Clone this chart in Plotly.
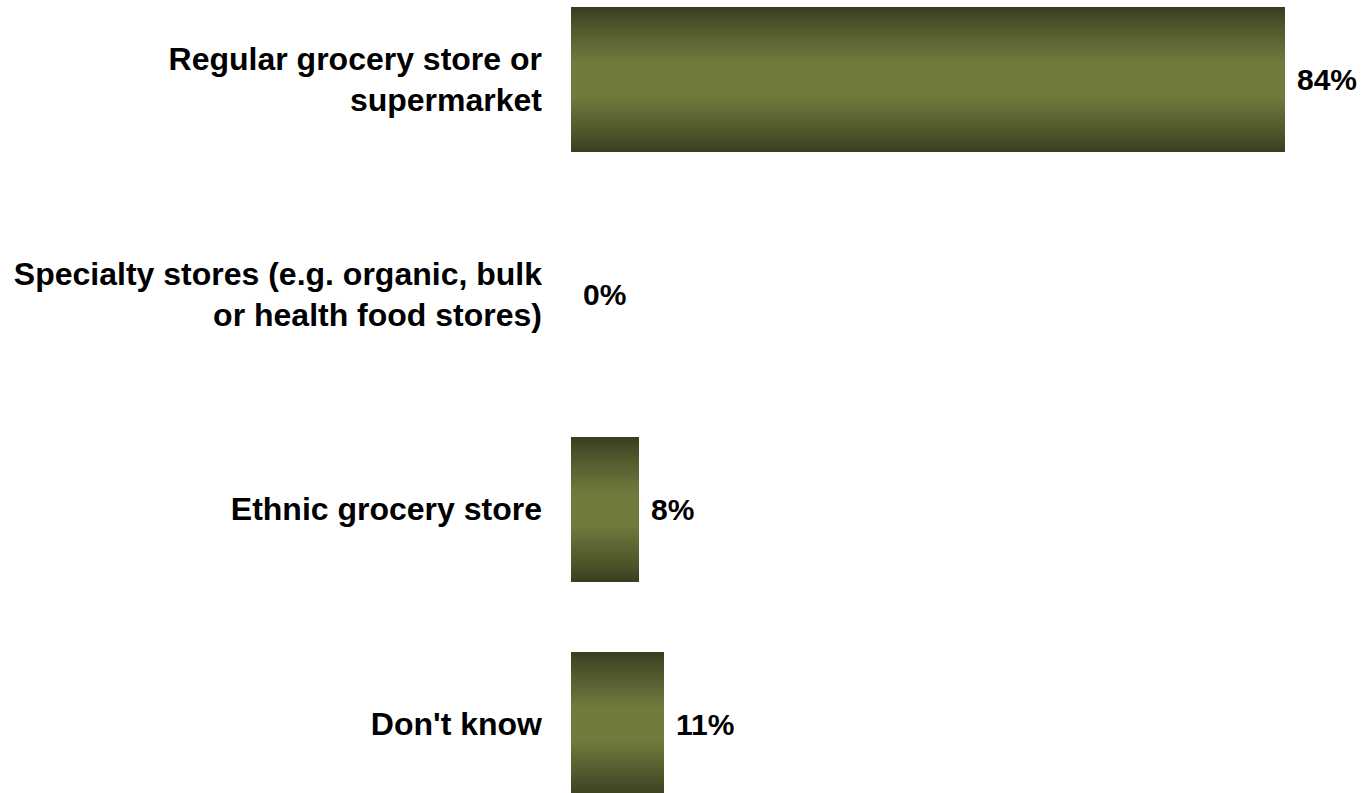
import plotly.graph_objects as go

# Where shoppers buy groceries (share of respondents, %)
categories = [
    "Regular grocery store or<br>supermarket",
    "Specialty stores (e.g. organic, bulk<br>or health food stores)",
    "Ethnic grocery store",
    "Don't know",
]
values = [84, 0, 8, 11]
value_labels = ["84%", "0%", "8%", "11%"]

# Bar fill: dark olive at the top/bottom edges, lighter olive in the middle
EDGE = (56, 60, 31)
CENTER = (111, 123, 61)
BAR_WIDTH = 0.675
LAYERS = 36


def shade(t):
    # t = 0 at the bar edge, 1 at its centre line
    s = min(1.0, t / 0.78)
    s = s ** 0.85
    r, g, b = (round(e + (c - e) * s) for e, c in zip(EDGE, CENTER))
    return f"rgb({r},{g},{b})"


fig = go.Figure()
for i in range(LAYERS):
    frac = i / LAYERS
    fig.add_trace(go.Bar(
        x=values,
        y=categories,
        orientation="h",
        width=BAR_WIDTH * (1 - frac),
        marker=dict(color=shade(frac + 0.5 / LAYERS), line=dict(width=0)),
        hoverinfo="skip",
        showlegend=False,
    ))

for cat, val, lab in zip(categories, values, value_labels):
    fig.add_annotation(
        x=val, y=cat, text=f"<b>{lab}</b>", showarrow=False,
        xanchor="left", yanchor="middle", xshift=10,
        font=dict(family="Liberation Sans, Arial, sans-serif", size=30, color="#000000"),
    )

fig.update_layout(
    width=1364, height=793,
    margin=dict(l=571, r=0, t=0, b=0),
    barmode="overlay",
    bargap=0,
    paper_bgcolor="white",
    plot_bgcolor="white",
    font=dict(family="Liberation Sans, Arial, sans-serif", size=32, color="#000000"),
    xaxis=dict(range=[0, 93.3], visible=False, fixedrange=True),
    yaxis=dict(
        type="category",
        categoryorder="array",
        categoryarray=categories,
        range=[3.321, -0.370],
        showgrid=False, zeroline=False, showline=False,
        ticks="", ticklabelstandoff=28,
        tickfont=dict(family="Liberation Sans, Arial, sans-serif", size=32, color="#000000", weight="bold"),
        fixedrange=True,
    ),
)

fig.write_html("out.html", config={"displayModeBar": False})
